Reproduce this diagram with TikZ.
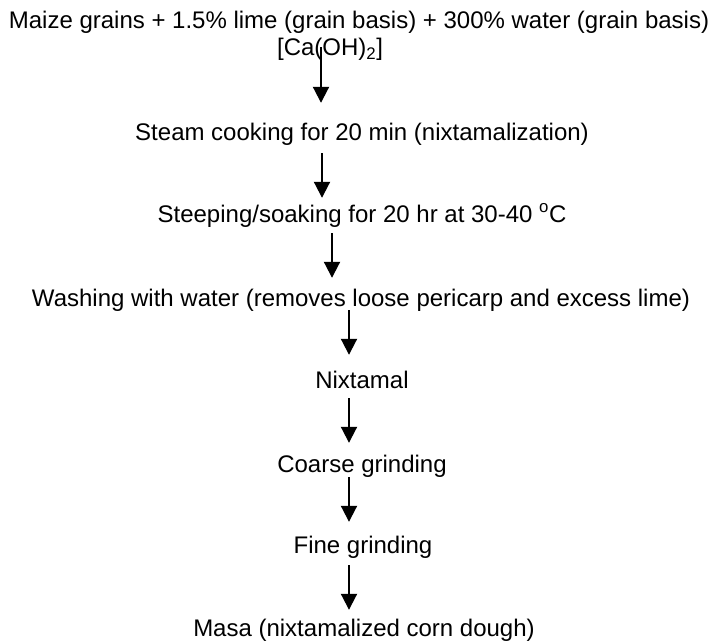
\documentclass[tikz,border=0pt]{standalone}
\usepackage{fontspec}
\setmainfont{Liberation Sans}
\usetikzlibrary{arrows.meta}

\tikzset{
  step text/.style={anchor=base, inner sep=0pt, text height=17pt, text depth=5pt,
    font=\fontsize{24}{28}\selectfont},
  flow/.style={-{Triangle[length=16pt,width=16pt]}, line width=2pt}
}

\begin{document}
\begin{tikzpicture}[x=1pt, y=-1pt]
  % Canvas in pixel units, y running down
  \useasboundingbox (0,0) rectangle (713,642);
  % Raw materials
  \node[step text] (grains) at (359,29)
    {Maize grains + 1.5\% lime (grain basis) + 300\% water (grain basis)};
  \node[step text] (lime) at (330,56) {[Ca(OH)\textsubscript{2}]};
  % Process steps, one under the other
  \node[step text] (steam)  at (362,140) {Steam cooking for 20 min (nixtamalization)};
  \node[step text] (steep)  at (362,222) {Steeping/soaking for 20 hr at 30-40 \textsuperscript{o}C};
  \node[step text] (wash)   at (361,306) {Washing with water (removes loose pericarp and excess lime)};
  \node[step text] (nixt)   at (362,388) {Nixtamal};
  \node[step text] (coarse) at (362,472) {Coarse grinding};
  \node[step text] (fine)   at (363,553) {Fine grinding};
  \node[step text] (masa)   at (364,636) {Masa (nixtamalized corn dough)};
  % Arrows between the steps (set a little off the text centres)
  \draw[flow] ([shift={(-9,-14)}]lime.south) -- ([shift={(-41,-20)}]steam.north);
  \draw[flow] ([shift={(-40,8)}]steam.south) -- ([shift={(-40,-7)}]steep.north);
  \draw[flow] ([shift={(-30,6)}]steep.south) -- ([shift={(-29,-11)}]wash.north);
  \draw[flow] ([shift={(-12,-1)}]wash.south) -- ([shift={(-13,-16)}]nixt.north);
  \draw[flow] ([shift={(-13,5)}]nixt.south) -- ([shift={(-13,-12)}]coarse.north);
  \draw[flow] ([shift={(-13,0)}]coarse.south) -- ([shift={(-14,-14)}]fine.north);
  \draw[flow] ([shift={(-14,7)}]fine.south) -- ([shift={(-15,-9)}]masa.north);
\end{tikzpicture}
\end{document}
